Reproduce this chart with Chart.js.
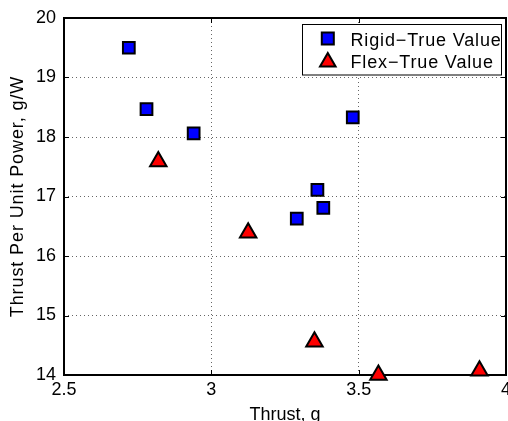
<!DOCTYPE html>
<html>
<head>
<meta charset="utf-8">
<script src="https://cdn.jsdelivr.net/npm/chart.js@4/dist/chart.umd.min.js"></script>
<style>
  html, body { margin: 0; padding: 0; background: #fff; overflow: hidden; }
  #wrap { width: 508px; height: 421px; position: relative; }
</style>
</head>
<body>
<div id="wrap"><canvas id="c" width="508" height="421"></canvas></div>
<script>
// ---- data ----
const rigidLabel = "Rigid\u2212True Value";
const flexLabel = "Flex\u2212True Value";
const rigidX = [2.72, 2.78, 2.94, 3.48, 3.36, 3.38, 3.29];
const rigidY = [19.50, 18.47, 18.06, 18.33, 17.11, 16.81, 16.63];
const flexX = [2.82, 3.125, 3.35, 3.567, 3.91];
const flexY = [17.59, 16.39, 14.56, 14.00, 14.07];
const xTicks = [2.5, 3, 3.5, 4];
const xTickLabels = ["2.5", "3", "3.5", "4"];
const yTicks = [14, 15, 16, 17, 18, 19, 20];
const yTickLabels = ["14", "15", "16", "17", "18", "19", "20"];
const xTitle = "Thrust, g";
const yTitle = "Thrust Per Unit Power, g/W";

const FONT = '"Liberation Sans", Arial, Helvetica, sans-serif';

function pts(xs, ys) { return xs.map((x, i) => ({ x: x, y: ys[i] })); }

function drawMarker(ctx, style, x, y, r) {
  ctx.beginPath();
  if (style === 'rect') {
    const s = Math.SQRT1_2 * r;
    ctx.rect(x - s, y - s, 2 * s, 2 * s);
  } else {
    let rad = 0;
    ctx.moveTo(x + Math.sin(rad) * r, y - Math.cos(rad) * r);
    rad += Math.PI * 2 / 3;
    ctx.lineTo(x + Math.sin(rad) * r, y - Math.cos(rad) * r);
    rad += Math.PI * 2 / 3;
    ctx.lineTo(x + Math.sin(rad) * r, y - Math.cos(rad) * r);
    ctx.closePath();
  }
  ctx.fill();
  ctx.stroke();
}

const frame = {
  id: 'frame',
  beforeDraw(chart) {
    const s = chart.scales.y;
    if (s && !s._lsWrapped) {
      const orig = s.drawTitle.bind(s);
      s.drawTitle = function () {
        const c = this.ctx;
        const prev = c.letterSpacing;
        c.letterSpacing = '0.9px';
        orig();
        c.letterSpacing = prev || '0px';
      };
      s._lsWrapped = true;
    }
  },
  beforeDatasetsDraw(chart) {
    const { ctx, chartArea: a, scales } = chart;
    ctx.save();
    ctx.strokeStyle = '#000';
    ctx.lineWidth = 1;
    const L = 5;
    ctx.beginPath();
    xTicks.forEach(v => {
      const px = Math.round(scales.x.getPixelForValue(v)) + 0.5;
      ctx.moveTo(px, a.bottom); ctx.lineTo(px, a.bottom - L);
      ctx.moveTo(px, a.top); ctx.lineTo(px, a.top + L);
    });
    yTicks.forEach(v => {
      const py = Math.round(scales.y.getPixelForValue(v)) + 0.5;
      ctx.moveTo(a.left, py); ctx.lineTo(a.left + L, py);
      ctx.moveTo(a.right, py); ctx.lineTo(a.right - L, py);
    });
    ctx.stroke();
    ctx.lineWidth = 2;
    ctx.strokeRect(a.left, a.top, a.right - a.left, a.bottom - a.top);
    ctx.restore();
  },
  afterDatasetsDraw(chart) {
    const ctx = chart.ctx;
    ctx.save();
    const bx = 302.5, by = 24.5, bw = 199, bh = 50.5;
    ctx.fillStyle = '#fff';
    ctx.fillRect(bx, by, bw, bh);
    ctx.strokeStyle = '#000';
    ctx.lineWidth = 1;
    ctx.strokeRect(bx, by, bw, bh);
    const ds = chart.data.datasets;
    const rows = [
      { cy: 38.5, base: 46, style: 'rect', r: 8.5 },
      { cy: 62, base: 68.3, style: 'triangle', r: 9 }
    ];
    rows.forEach((row, i) => {
      ctx.fillStyle = ds[i].backgroundColor;
      ctx.strokeStyle = '#000';
      ctx.lineWidth = 2;
      drawMarker(ctx, row.style, 327.8, row.cy, row.r);
      ctx.fillStyle = '#000';
      ctx.font = '18px ' + FONT;
      ctx.letterSpacing = '0.85px';
      ctx.textAlign = 'left';
      ctx.textBaseline = 'alphabetic';
      ctx.fillText(ds[i].label, 350.5, row.base);
      ctx.letterSpacing = '0px';
    });
    ctx.restore();
  }
};

new Chart(document.getElementById('c'), {
  type: 'scatter',
  data: {
    datasets: [
      {
        label: rigidLabel,
        data: pts(rigidX, rigidY),
        pointStyle: 'rect',
        pointRadius: 8.3,
        pointHoverRadius: 8.3,
        backgroundColor: '#0000ff',
        borderColor: '#000',
        borderWidth: 2,
        clip: false
      },
      {
        label: flexLabel,
        data: pts(flexX, flexY),
        pointStyle: 'triangle',
        pointRadius: 9.5,
        pointHoverRadius: 9.5,
        backgroundColor: '#ff0000',
        borderColor: '#000',
        borderWidth: 2,
        clip: false
      }
    ]
  },
  options: {
    responsive: false,
    animation: false,
    events: [],
    layout: { autoPadding: false, padding: { left: 0, right: 2, top: 18, bottom: 0 } },
    plugins: { legend: { display: false }, tooltip: { enabled: false } },
    scales: {
      x: {
        type: 'linear',
        min: 2.5, max: 4,
        afterBuildTicks(s) { s.ticks = xTicks.map(v => ({ value: v })); },
        afterFit(s) { s.height = 46; s.paddingLeft = 0; s.paddingRight = 0; },
        ticks: {
          color: '#000',
          padding: 6,
          maxRotation: 0,
          autoSkip: false,
          callback: (v) => xTickLabels[xTicks.indexOf(v)] ?? String(v),
          font: { family: FONT, size: 18, lineHeight: 1 }
        },
        grid: { color: 'rgba(0,0,0,0.6)', lineWidth: 1, drawTicks: false },
        border: { display: false, dash: [1, 3] },
        title: {
          display: true, text: xTitle, color: '#000',
          font: { family: FONT, size: 18, lineHeight: 1 },
          padding: { top: 0, bottom: -3 }
        }
      },
      y: {
        type: 'linear',
        min: 14, max: 20,
        afterBuildTicks(s) { s.ticks = yTicks.map(v => ({ value: v })); },
        afterFit(s) { s.width = 64; s.paddingTop = 0; s.paddingBottom = 0; },
        ticks: {
          color: '#000',
          padding: 8,
          autoSkip: false,
          callback: (v) => yTickLabels[yTicks.indexOf(v)] ?? String(v),
          font: { family: FONT, size: 18, lineHeight: 1 }
        },
        grid: { color: 'rgba(0,0,0,0.6)', lineWidth: 1, drawTicks: false },
        border: { display: false, dash: [1, 3] },
        title: {
          display: true, text: yTitle, color: '#000',
          font: { family: FONT, size: 18, lineHeight: 1 },
          padding: { top: 9.5, bottom: 0 }
        }
      }
    }
  },
  plugins: [frame]
});
</script>
</body>
</html>
